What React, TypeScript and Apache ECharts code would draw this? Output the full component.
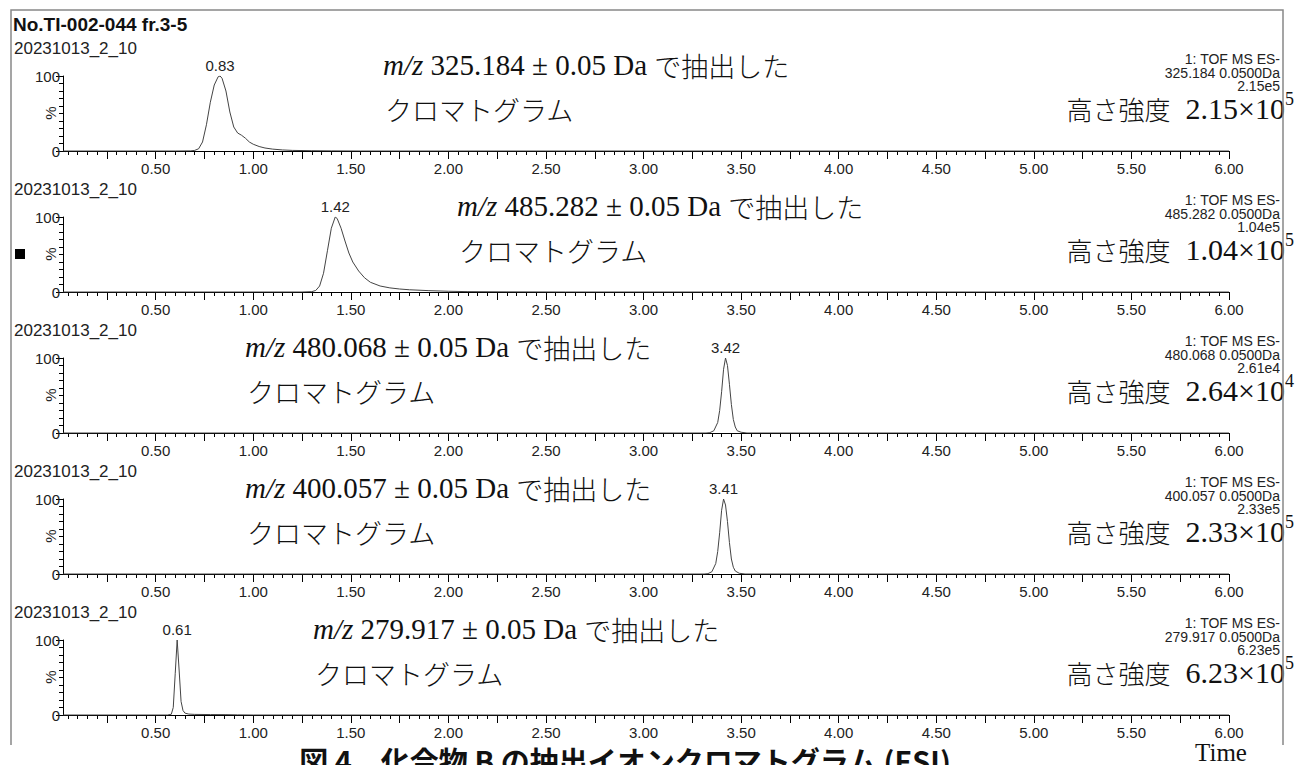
import React, { useEffect, useRef } from "react";
import * as echarts from "echarts";

const title = "No.TI-002-044 fr.3-5";
const sampleNames = ["20231013_2_10", "20231013_2_10", "20231013_2_10", "20231013_2_10", "20231013_2_10"];
const scanLabel = "1: TOF MS ES-";
const massValues = ["325.184", "485.282", "480.068", "400.057", "279.917"];
const windowLabel = "0.0500Da";
const intensityLabels = ["2.15e5", "1.04e5", "2.61e4", "2.33e5", "6.23e5"];
const heightMantissa = ["2.15", "1.04", "2.64", "2.33", "6.23"];
const heightExponent = ["5", "5", "4", "5", "5"];
const peakTimes = [0.83, 1.42, 3.42, 3.41, 0.61];
const peakLabels = ["0.83", "1.42", "3.42", "3.41", "0.61"];

const trace1: [number, number][] = [
  [0.025, 0], [0.6, 0], [0.68, 0.2], [0.7, 0.8], [0.72, 3], [0.74, 12], [0.76, 35], [0.78, 65],
  [0.8, 88], [0.82, 99], [0.83, 100], [0.84, 97], [0.86, 80], [0.88, 52], [0.9, 32], [0.92, 24],
  [0.94, 21], [0.96, 17], [0.98, 12], [1.0, 9], [1.03, 6], [1.06, 4], [1.1, 2.5], [1.15, 1.4],
  [1.2, 0.8], [1.3, 0.4], [1.4, 0.2], [1.55, 0], [6.0, 0],
];
const trace2: [number, number][] = [
  [0.025, 0], [1.25, 0], [1.3, 0.5], [1.32, 2], [1.34, 8], [1.36, 25], [1.38, 55], [1.4, 85],
  [1.42, 100], [1.43, 98], [1.45, 85], [1.47, 68], [1.49, 52], [1.51, 40], [1.54, 28], [1.57, 19],
  [1.6, 13], [1.65, 8], [1.7, 5.5], [1.75, 4], [1.8, 3], [1.9, 1.8], [2.0, 1], [2.1, 0.5],
  [2.3, 0.2], [2.6, 0], [6.0, 0],
];
const trace3: [number, number][] = [
  [0.025, 0], [3.32, 0], [3.34, 0.5], [3.36, 3], [3.38, 14], [3.39, 30], [3.4, 55], [3.41, 85],
  [3.42, 100], [3.43, 90], [3.44, 65], [3.45, 38], [3.46, 18], [3.47, 8], [3.48, 3], [3.5, 1],
  [3.53, 0], [6.0, 0],
];
const trace4: [number, number][] = [
  [0.025, 0], [3.31, 0], [3.33, 0.5], [3.35, 3], [3.37, 14], [3.38, 30], [3.39, 55], [3.4, 85],
  [3.41, 100], [3.42, 92], [3.43, 70], [3.44, 42], [3.45, 20], [3.46, 9], [3.47, 4], [3.49, 1],
  [3.52, 0], [6.0, 0],
];
const trace5: [number, number][] = [
  [0.025, 0], [0.56, 0], [0.58, 1], [0.59, 10], [0.6, 55], [0.61, 100], [0.62, 60], [0.63, 18],
  [0.64, 6], [0.65, 2.5], [0.67, 1.2], [0.7, 0.8], [0.78, 0.6], [0.86, 0.5], [0.92, 0.2], [1.0, 0],
  [6.0, 0],
];
const traces = [trace1, trace2, trace3, trace4, trace5];

const xMin = 0.025;
const xMax = 6.0;
const xLabelValues = [0.5, 1.0, 1.5, 2.0, 2.5, 3.0, 3.5, 4.0, 4.5, 5.0, 5.5, 6.0];
const xMajorTickValues = [0.25, 0.5, 0.75, 1.0, 1.25, 1.5, 1.75, 2.0, 2.25, 2.5, 2.75, 3.0, 3.25, 3.5, 3.75, 4.0, 4.25, 4.5, 4.75, 5.0, 5.25, 5.5, 5.75, 6.0];
const yLabelValues = [0, 100];
const yMinorTickValues = [10, 20, 30, 40, 50, 60, 70, 80, 90];

const annotationX = [383, 457, 245, 245, 313];
const captionText = "図 4　化合物 B の抽出イオンクロマトグラム (ESI)";

const SANS = "'Liberation Sans', Arial, sans-serif";
const SERIF = "'Liberation Serif', 'Times New Roman', serif";
const CJK = "'Noto Sans CJK JP', sans-serif";

export default function App() {
  const ref = useRef<HTMLDivElement>(null);

  useEffect(() => {
    if (!ref.current) return;
    const chart = echarts.init(ref.current, undefined, { renderer: "svg" });

    const minorX: number[] = [];
    for (let k = 1; k <= 120; k++) minorX.push(Math.round(k * 5) / 100);

    const PANEL = 141;
    const grids: any[] = [];
    const xAxes: any[] = [];
    const yAxes: any[] = [];
    const series: any[] = [];
    const graphics: any[] = [];

    traces.forEach((tr, i) => {
      const dy = PANEL * i;
      grids.push({ left: 63, top: 76 + dy, width: 1166, height: 75 });
      xAxes.push({
        gridIndex: i, type: "value", min: xMin, max: xMax, position: "bottom", offset: 0,
        axisLine: { show: true, lineStyle: { color: "#000", width: 1 } },
        axisTick: { show: true, customValues: xMajorTickValues, length: 8, lineStyle: { color: "#000", width: 1 } },
        axisLabel: {
          customValues: xLabelValues, formatter: (v: number) => v.toFixed(2),
          fontSize: 15, color: "#222", margin: 10, fontFamily: SANS,
        },
        splitLine: { show: false },
      });
      xAxes.push({
        gridIndex: i, type: "value", min: xMin, max: xMax, position: "bottom", offset: 0,
        axisLine: { show: false },
        axisTick: { show: true, customValues: minorX, length: 4, lineStyle: { color: "#000", width: 1 } },
        axisLabel: { show: false },
        splitLine: { show: false },
      });
      yAxes.push({
        gridIndex: i, type: "value", min: 0, max: 100, position: "left",
        axisLine: { show: true, lineStyle: { color: "#000", width: 1 } },
        axisTick: { show: true, customValues: yLabelValues, length: 7, lineStyle: { color: "#000" } },
        axisLabel: { customValues: yLabelValues, fontSize: 15, color: "#222", margin: 3, fontFamily: SANS },
        splitLine: { show: false },
      });
      yAxes.push({
        gridIndex: i, type: "value", min: 0, max: 100, position: "left", offset: 0,
        axisLine: { show: false },
        axisTick: { show: true, customValues: yMinorTickValues, length: 4, lineStyle: { color: "#000" } },
        axisLabel: { show: false },
        splitLine: { show: false },
      });
      const apex = tr.find((p) => p[0] === peakTimes[i]) || [peakTimes[i], 100];
      series.push({
        type: "line", xAxisIndex: 2 * i, yAxisIndex: 2 * i, data: tr,
        symbol: "none", showSymbol: false, silent: true,
        lineStyle: { color: "#444", width: 1 },
        markPoint: {
          symbol: "circle", symbolSize: 0, silent: true,
          label: { show: true, position: "top", distance: 3, fontSize: 15, color: "#222", fontFamily: SANS, formatter: "{b}" },
          data: [{ name: peakLabels[i], coord: apex }],
        },
      });

      // "%" axis name
      graphics.push({ type: "text", x: 50, y: 113 + dy, rotation: Math.PI / 2, style: { text: "%", textAlign: "center", textVerticalAlign: "middle", fontSize: 15, fontFamily: SANS, fill: "#222" } });
      // left sample name
      graphics.push({ type: "text", x: 14, y: 48 + dy, style: { text: sampleNames[i], textAlign: "left", textVerticalAlign: "middle", fontSize: 17, fontFamily: SANS, fill: "#222" } });
      // right info
      const info = [scanLabel, `${massValues[i]} ${windowLabel}`, intensityLabels[i]];
      info.forEach((t, k) => {
        graphics.push({ type: "text", x: 1280, y: 59 + 13.5 * k + dy, style: { text: t, textAlign: "right", textVerticalAlign: "middle", fontSize: 14, fontFamily: SANS, fill: "#222" } });
      });
      // annotations
      graphics.push({
        type: "text", x: annotationX[i], y: 65 + dy,
        style: {
          text: `{i|m/z} ${massValues[i]} ± 0.05 Da {j|で抽出した}`,
          textAlign: "left", textVerticalAlign: "middle", fontSize: 29, fontFamily: SERIF, fill: "#111",
          rich: {
            i: { fontStyle: "italic", fontSize: 29, fontFamily: SERIF, fill: "#111" },
            j: { fontSize: 27, fontWeight: 300, fontFamily: CJK, fill: "#111" },
          },
        },
      });
      graphics.push({
        type: "text", x: annotationX[i] + 2, y: 109 + dy,
        style: { text: "クロマトグラム", textAlign: "left", textVerticalAlign: "middle", fontSize: 27, fontWeight: 300, fontFamily: CJK, fill: "#111" },
      });
      graphics.push({
        type: "text", x: 1285, y: 108 + dy,
        style: {
          text: `{j|高さ強度}  ${heightMantissa[i]}×10`,
          textAlign: "right", textVerticalAlign: "middle", fontSize: 30, fontFamily: SERIF, fill: "#111",
          rich: { j: { fontSize: 26, fontWeight: 300, fontFamily: CJK, fill: "#111" } },
        },
      });
      graphics.push({
        type: "text", x: 1285, y: 99 + dy,
        style: { text: heightExponent[i], textAlign: "left", textVerticalAlign: "middle", fontSize: 18, fontFamily: SERIF, fill: "#111" },
      });
    });

    graphics.push({ type: "polyline", shape: { points: [[11, 745], [11, 10], [1283, 10], [1283, 745]] }, style: { stroke: "#888", lineWidth: 1.5, fill: "none" } });
    graphics.push({ type: "text", x: 13, y: 24, style: { text: title, textAlign: "left", textVerticalAlign: "middle", fontSize: 19, fontWeight: "bold", fontFamily: SANS, fill: "#111" } });
    graphics.push({ type: "rect", shape: { x: 15, y: 249, width: 10, height: 10 }, style: { fill: "#000" } });
    graphics.push({ type: "text", x: 625, y: 760, style: { text: captionText, textAlign: "center", textVerticalAlign: "middle", fontSize: 29, fontWeight: "bold", fontFamily: CJK, fill: "#111" } });
    graphics.push({ type: "text", x: 1221, y: 752, style: { text: "Time", textAlign: "center", textVerticalAlign: "middle", fontSize: 25, fontFamily: SERIF, fill: "#111" } });

    chart.setOption({
      animation: false,
      backgroundColor: "#fff",
      grid: grids,
      xAxis: xAxes,
      yAxis: yAxes,
      series,
      graphic: graphics,
    });

    return () => chart.dispose();
  }, []);

  return <div ref={ref} style={{ position: "absolute", left: 0, top: 0, width: 1309, height: 765 }} />;
}
